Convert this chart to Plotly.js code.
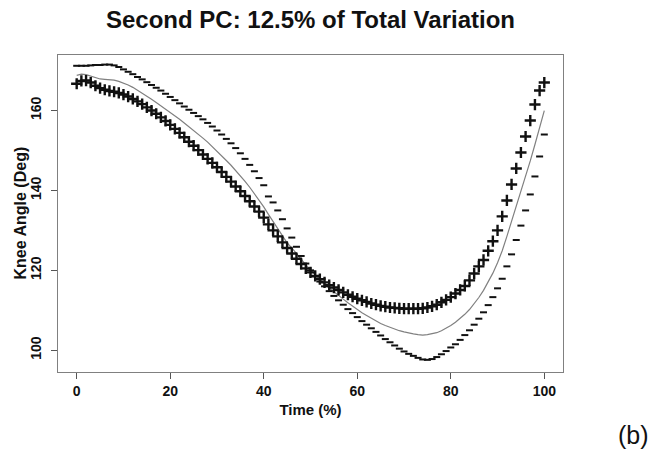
<!DOCTYPE html>
<html>
<head>
<meta charset="utf-8">
<script src="https://cdn.plot.ly/plotly-3.0.1.min.js"></script>
<style>html,body{margin:0;padding:0;background:#fff;}#chart{width:656px;height:455px;}</style>
</head>
<body>
<div id="chart"></div>
<script>
// Time (%) 0..100
var time = [];
for (var i = 0; i <= 100; i++) time.push(i);

// Mean curve (gray line)
var meanCurve = [
168.8,169.1,169.0,168.6,168.2,167.9,167.8,167.7,167.6,167.3,
166.9,166.4,165.8,165.1,164.3,163.5,162.8,162.0,161.2,160.4,
159.6,158.7,157.8,156.9,156.0,155.1,154.1,153.1,152.1,151.0,
149.9,148.7,147.5,146.3,145.0,143.7,142.3,140.8,139.2,137.5,
135.9,134.0,132.2,130.4,128.6,126.9,125.6,124.1,122.7,121.4,
120.1,118.9,117.7,116.6,115.6,114.6,113.7,112.8,111.9,111.0,
110.2,109.4,108.7,108.0,107.3,106.7,106.2,105.7,105.3,104.9,
104.6,104.3,104.1,103.9,103.8,103.9,104.1,104.4,104.9,105.5,
106.2,107.0,107.9,109.0,110.2,111.6,113.2,115.0,117.0,119.3,
121.9,124.9,128.5,132.2,136.0,139.8,143.6,147.4,151.5,155.6,
160.0];

// Mean + PC2 ("+" markers)
var plusCurve = [
166.7,167.4,167.5,167.0,166.2,165.6,165.2,164.9,164.7,164.4,
164.0,163.5,162.9,162.3,161.6,160.8,160.0,159.2,158.3,157.4,
156.4,155.4,154.4,153.3,152.2,151.2,150.1,149.0,147.9,146.9,
145.8,144.6,143.4,142.2,141.0,139.8,138.6,137.3,136.0,134.7,
133.2,131.5,130.0,128.5,127.0,125.6,124.2,122.9,121.6,120.5,
119.5,118.6,117.8,117.0,116.3,115.7,115.1,114.5,113.9,113.4,
112.9,112.5,112.1,111.7,111.4,111.1,110.9,110.7,110.6,110.5,
110.4,110.4,110.4,110.4,110.5,110.7,111.0,111.4,112.0,112.6,
113.3,114.2,115.1,116.1,117.5,119.2,121.0,122.6,124.9,127.3,
130.0,133.5,137.5,141.5,145.5,149.5,153.5,157.5,161.5,165.0,
167.0];

// Mean - PC2 ("-" markers)
var minusCurve = [
171.2,171.2,171.2,171.3,171.4,171.4,171.5,171.5,171.3,170.9,
170.3,169.7,169.1,168.4,167.8,167.1,166.4,165.7,165.0,164.2,
163.4,162.6,161.8,161.0,160.2,159.4,158.6,157.8,156.9,156.0,
155.0,154.0,152.9,151.8,150.6,149.3,147.9,146.4,144.8,143.1,
141.3,138.5,137.0,135.0,132.8,130.5,128.2,125.9,123.6,121.7,
120.0,118.5,117.2,116.0,114.8,113.6,112.5,111.4,110.3,109.3,
108.3,107.3,106.4,105.5,104.6,103.7,102.8,102.0,101.2,100.4,
99.7,99.1,98.6,98.1,97.7,97.6,97.8,98.3,99.0,99.8,
100.7,101.5,102.6,103.8,105.0,106.4,107.9,109.5,111.3,113.3,
115.5,117.9,121.0,124.0,127.6,131.2,135.0,139.0,143.5,148.5,
154.0];

var xTicks = [0, 20, 40, 60, 80, 100];
var yTicks = [100, 120, 140, 160];

var FONT = "Liberation Sans, Arial, Helvetica, sans-serif";

var traces = [
  {x: time, y: meanCurve, type: 'scatter', mode: 'lines',
   line: {color: '#808080', width: 1.2}, hoverinfo: 'skip'},
  {x: time, y: minusCurve, type: 'scatter', mode: 'markers',
   marker: {symbol: 'line-ew', size: 5, color: '#111', line: {color: '#111', width: 2}}},
  {x: time, y: plusCurve, type: 'scatter', mode: 'markers',
   marker: {symbol: 'cross-thin', size: 8, color: '#111', line: {color: '#111', width: 2.4}}}
];

var axisCommon = {
  showgrid: false, zeroline: false, showline: true, mirror: true,
  linecolor: '#808080', linewidth: 1.2,
  ticks: 'outside', ticklen: 6, tickwidth: 1, tickcolor: '#555',
  tickfont: {family: FONT, size: 14, color: '#111', weight: 'bold'}
};

var layout = {
  width: 656, height: 455,
  margin: {l: 58, r: 93, t: 55, b: 83},
  paper_bgcolor: '#fff', plot_bgcolor: '#fff',
  showlegend: false,
  title: {text: 'Second PC: 12.5% of Total Variation',
          font: {family: FONT, size: 24, color: '#111', weight: 'bold'},
          xref: 'paper', x: 0.5, xanchor: 'center',
          yref: 'container', y: 1 - 20/455, yanchor: 'middle'},
  xaxis: Object.assign({}, axisCommon, {
    range: [-4, 104], tickvals: xTicks, ticktext: xTicks.map(String),
    title: {text: 'Time (%)', font: {family: FONT, size: 15, color: '#111', weight: 'bold'}, standoff: 6}
  }),
  yaxis: Object.assign({}, axisCommon, {
    range: [94.56, 173.9], tickvals: yTicks, ticktext: yTicks.map(String), tickangle: -90,
    ticklabelstandoff: 4
  }),
  annotations: [
    {text: 'Knee Angle (Deg)', textangle: -90, xref: 'paper', yref: 'paper',
     x: (20 - 58) / 505, y: 0.5, xanchor: 'center', yanchor: 'middle', showarrow: false,
     font: {family: FONT, size: 16, color: '#111', weight: 'bold'}},
    {text: '(b)', xref: 'paper', yref: 'paper', x: (633 - 58) / 505, y: (372 - 435) / 317,
     xanchor: 'center', yanchor: 'middle', showarrow: false,
     font: {family: FONT, size: 25, color: '#111'}}
  ]
};

Plotly.newPlot('chart', traces, layout, {displayModeBar: false, staticPlot: true});
</script>
</body>
</html>
